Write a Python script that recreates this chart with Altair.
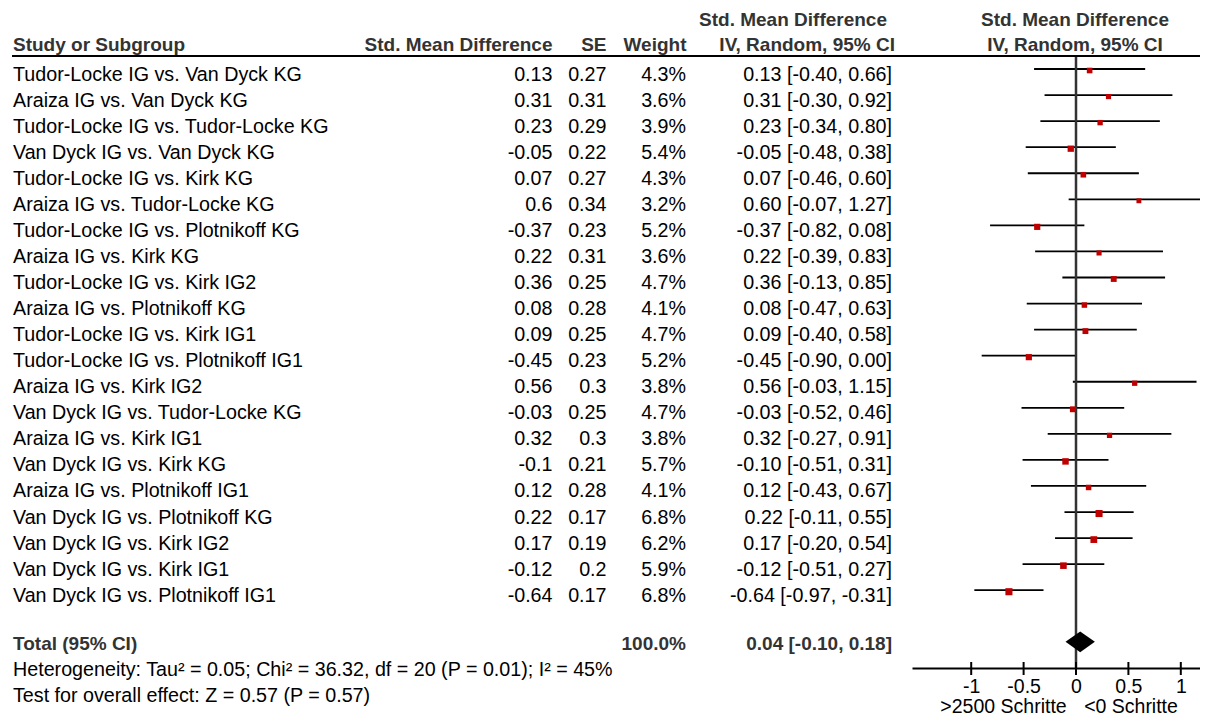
import altair as alt
import pandas as pd

# ---------------- data ----------------
studies = [
    "Tudor-Locke IG vs. Van Dyck KG",
    "Araiza IG vs. Van Dyck KG",
    "Tudor-Locke IG vs. Tudor-Locke KG",
    "Van Dyck IG vs. Van Dyck KG",
    "Tudor-Locke IG vs. Kirk KG",
    "Araiza IG vs. Tudor-Locke KG",
    "Tudor-Locke IG vs. Plotnikoff KG",
    "Araiza IG vs. Kirk KG",
    "Tudor-Locke IG vs. Kirk IG2",
    "Araiza IG vs. Plotnikoff KG",
    "Tudor-Locke IG vs. Kirk IG1",
    "Tudor-Locke IG vs. Plotnikoff IG1",
    "Araiza IG vs. Kirk IG2",
    "Van Dyck IG vs. Tudor-Locke KG",
    "Araiza IG vs. Kirk IG1",
    "Van Dyck IG vs. Kirk KG",
    "Araiza IG vs. Plotnikoff IG1",
    "Van Dyck IG vs. Plotnikoff KG",
    "Van Dyck IG vs. Kirk IG2",
    "Van Dyck IG vs. Kirk IG1",
    "Van Dyck IG vs. Plotnikoff IG1",
]
smd = [0.13, 0.31, 0.23, -0.05, 0.07, 0.6, -0.37, 0.22, 0.36, 0.08, 0.09,
       -0.45, 0.56, -0.03, 0.32, -0.1, 0.12, 0.22, 0.17, -0.12, -0.64]
se = [0.27, 0.31, 0.29, 0.22, 0.27, 0.34, 0.23, 0.31, 0.25, 0.28, 0.25,
      0.23, 0.3, 0.25, 0.3, 0.21, 0.28, 0.17, 0.19, 0.2, 0.17]
weight = [4.3, 3.6, 3.9, 5.4, 4.3, 3.2, 5.2, 3.6, 4.7, 4.1, 4.7,
          5.2, 3.8, 4.7, 3.8, 5.7, 4.1, 6.8, 6.2, 5.9, 6.8]
ci_lower = [-0.40, -0.30, -0.34, -0.48, -0.46, -0.07, -0.82, -0.39, -0.13, -0.47, -0.40,
            -0.90, -0.03, -0.52, -0.27, -0.51, -0.43, -0.11, -0.20, -0.51, -0.97]
ci_upper = [0.66, 0.92, 0.80, 0.38, 0.60, 1.27, 0.08, 0.83, 0.85, 0.63, 0.58,
            0.00, 1.15, 0.46, 0.91, 0.31, 0.67, 0.55, 0.54, 0.27, -0.31]

total_label = "Total (95% CI)"
total_weight = 100.0
total_est = 0.04
total_lower = -0.10
total_upper = 0.18

tick_values = [-1, -0.5, 0, 0.5, 1]
heterogeneity = "Heterogeneity: Tau\u00b2 = 0.05; Chi\u00b2 = 36.32, df = 20 (P = 0.01); I\u00b2 = 45%"
overall = "Test for overall effect: Z = 0.57 (P = 0.57)"
favours_left = ">2500 Schritte"
favours_right = "<0 Schritte"

# ---------------- tables ----------------
rows = pd.DataFrame({
    "row": list(range(1, len(studies) + 1)),
    "study": studies,
    "smd": smd,
    "smd_txt": [str(v) for v in smd],
    "se_txt": [str(v) for v in se],
    "weight": weight,
    "weight_txt": [f"{w:.1f}%" for w in weight],
    "lower": ci_lower,
    "upper": ci_upper,
    "ci_txt": [f"{m:.2f} [{l:.2f}, {u:.2f}]" for m, l, u in zip(smd, ci_lower, ci_upper)],
})

TOTAL_ROW = 22.98
DIAMOND_HALF = 0.40
total_df = pd.DataFrame({
    "row": [TOTAL_ROW],
    "label": [total_label],
    "w_txt": [f"{total_weight:.1f}%"],
    "ci_txt": [f"{total_est:.2f} [{total_lower:.2f}, {total_upper:.2f}]"],
})
diamond = pd.DataFrame({
    "x": [total_lower, total_est, total_upper],
    "y": [TOTAL_ROW, TOTAL_ROW - DIAMOND_HALF, TOTAL_ROW],
    "y2": [TOTAL_ROW, TOTAL_ROW + DIAMOND_HALF, TOTAL_ROW],
})
ticks_df = pd.DataFrame({"v": tick_values})
zero_df = pd.DataFrame({"v": [0]})

# ---------------- scales ----------------
FONT = "Liberation Sans"
FS = 19.7
FSB = 19
W, H = 1192, 660
xs = alt.Scale(domain=[-1.5649, 1.1832], range=[904, 1192], nice=False, zero=False)
ys = alt.Scale(domain=[-1.3408, 23.985], reverse=True, nice=False, zero=False)
AX = alt.Axis(
    values=tick_values, ticks=False, grid=False, title=None,
    domainColor="black", domainWidth=2,
    labelFont=FONT, labelFontSize=19.5, labelColor="black",
    labelPadding=24.5, labelBaseline="alphabetic",
    labelExpr="toString(datum.value)",
)


def Y(field="row"):
    return alt.Y(f"{field}:Q", scale=ys, axis=None)


def X(field):
    return alt.X(f"{field}:Q", scale=xs, axis=AX)


# ---------------- forest ----------------
ci_lines = alt.Chart(rows).mark_rule(color="black", strokeWidth=1.8).encode(
    x=X("lower"), x2="upper:Q", y=Y(),
)
squares = alt.Chart(rows).mark_square(color="#C00000", opacity=1, yOffset=1.5).encode(
    x=X("smd"),
    y=Y(),
    size=alt.Size("weight:Q", scale=alt.Scale(domain=[0, 6.8], range=[0, 50]), legend=None),
)
zero_line = alt.Chart(zero_df).mark_rule(color="#333333", strokeWidth=2.5).encode(
    x=X("v"), y=alt.value(48), y2=alt.value(H)
)
tick_marks = alt.Chart(ticks_df).mark_rule(color="black", strokeWidth=2).encode(
    x=X("v"), y=alt.value(654), y2=alt.value(667)
)
diamond_mark = alt.Chart(diamond).mark_area(color="black", orient="vertical", opacity=1).encode(
    x=X("x"), y=Y("y"), y2="y2:Q"
)


# ---------------- table text ----------------
def col(field, xpx, align, bold=False, data=rows, dy=11.5):
    return alt.Chart(data).mark_text(
        font=FONT, fontSize=FSB if bold else FS,
        fontWeight="bold" if bold else "normal",
        color="#333333" if bold else "black",
        align=align, baseline="alphabetic", dy=dy,
    ).encode(x=alt.value(xpx), y=Y(), text=f"{field}:N")


def label(text, xpx, ypx, align="left", bold=False, size=None):
    return alt.Chart(pd.DataFrame({"t": [text]})).mark_text(
        font=FONT, fontSize=size or (FSB if bold else FS),
        fontWeight="bold" if bold else "normal",
        color="#333333" if bold else "black",
        align=align, baseline="alphabetic",
    ).encode(x=alt.value(xpx), y=alt.value(ypx), text="t:N")


texts = [
    col("study", 5, "left"),
    col("smd_txt", 544.5, "right"),
    col("se_txt", 598.5, "right"),
    col("weight_txt", 678, "right"),
    col("ci_txt", 884, "right"),
    col("label", 5, "left", bold=True, data=total_df, dy=8),
    col("w_txt", 678, "right", bold=True, data=total_df, dy=8),
    col("ci_txt", 884, "right", bold=True, data=total_df, dy=8),
]

headers = [
    label("Study or Subgroup", 5, 43, bold=True),
    label("Std. Mean Difference", 544.5, 43, "right", bold=True),
    label("SE", 598.5, 43, "right", bold=True),
    label("Weight", 678.5, 43, "right", bold=True),
    label("Std. Mean Difference", 879, 18, "right", bold=True),
    label("IV, Random, 95% CI", 887, 43, "right", bold=True),
    label("Std. Mean Difference", 1067, 18, "center", bold=True),
    label("IV, Random, 95% CI", 1067, 43, "center", bold=True),
    label(heterogeneity, 5, 668),
    label(overall, 5, 694),
    label(favours_left, 995.5, 705, "center", size=19.5),
    label(favours_right, 1123, 705, "center", size=19.5),
]

header_rule = alt.Chart(pd.DataFrame({"t": [0]})).mark_rule(color="black", strokeWidth=2).encode(
    x=alt.value(4), x2=alt.value(W), y=alt.value(48)
)

chart = alt.layer(
    ci_lines, zero_line, tick_marks, squares, diamond_mark, header_rule,
    *texts, *headers,
).properties(
    width=W, height=H,
    autosize=alt.AutoSizeParams(type="none"),
    padding={"left": 0, "top": 0, "right": 0, "bottom": 49},
    background="white",
).configure_view(stroke=None)

chart.save("out.html", embed_options={"renderer": "svg", "actions": False})
